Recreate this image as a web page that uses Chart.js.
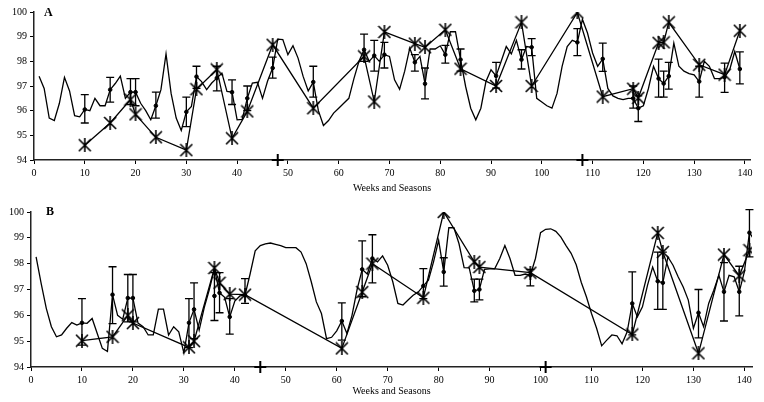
<!DOCTYPE html>
<html>
<head>
<meta charset="utf-8">
<script src="https://cdn.jsdelivr.net/npm/chart.js@4/dist/chart.umd.min.js"></script>
<style>
  body { margin: 0; background: #fff; width: 764px; height: 402px; position: relative; overflow: hidden; }
  canvas { position: absolute; left: 0; }
  #chartA { top: 0; }
  #chartB { top: 195px; }
  .panel { position: absolute; font: bold 12px "Liberation Serif", serif; color: #000; }
</style>
</head>
<body>
<canvas id="chartA" width="764" height="197"></canvas>
<canvas id="chartB" width="764" height="207"></canvas>
<div class="panel" style="left:44px;top:5px">A</div>
<div class="panel" style="left:46px;top:204px">B</div>
<script>
// ---- panel A ----
// weekly line, starts at week 1
const lineA = [97.4,96.9,95.7,95.6,96.3,97.35,96.8,95.8,95.75,96.05,
  96.0,96.5,96.2,96.2,96.85,97.1,97.4,96.5,96.75,96.75,
  96.3,96.0,95.63,96.2,96.85,98.3,96.7,95.7,95.2,95.95,
  96.17,97.38,97.18,96.85,97.12,97.32,97.52,96.78,96.75,95.63,
  95.65,96.5,97.12,97.15,96.5,97.2,97.73,98.9,98.88,98.27,
  98.63,98.13,97.39,96.8,97.16,96.0,95.4,95.6,95.9,96.1,
  96.3,96.5,97.3,98.0,98.47,98.0,98.23,98.0,98.27,98.2,
  97.25,96.87,97.6,98.54,97.96,98.2,97.09,98.5,98.5,98.63,
  98.27,99.2,99.2,98.07,96.98,96.1,95.63,96.1,97.18,97.66,
  97.41,98.0,98.6,98.3,98.85,98.07,98.6,98.57,96.5,96.35,
  96.2,96.1,96.7,97.8,98.6,98.85,98.77,99.7,99.15,98.34,
  97.8,98.1,96.9,96.6,96.5,96.45,96.5,96.5,96.1,96.2,
  96.9,97.8,97.3,97.1,97.4,98.74,97.8,97.6,97.5,97.45,
  97.18,98.0,97.8,97.3,97.3,97.36,97.66,98.4,97.69];
const weeksA = [10,15,19,20,24,30,32,36,39,42,47,55,65,67,69,75,77,81,84,91,96,98,107,112,118,119,123,124,125,131,136,139];
const meanA = [96.05,96.85,96.75,96.75,96.2,95.95,97.38,97.32,96.75,96.5,97.73,97.16,98.47,98.23,98.27,97.96,97.09,98.27,98.07,97.41,98.07,98.57,98.77,98.1,96.5,96.1,97.3,97.1,97.4,97.18,97.36,97.69];
const lowA = [95.5,96.35,96.25,96.2,95.7,95.35,96.9,96.8,96.25,96.0,97.32,96.55,98.0,97.6,97.73,97.6,96.48,97.93,97.6,96.91,97.69,98.23,98.23,97.59,96.1,95.56,96.55,96.55,96.87,96.55,96.74,97.09];
const highA = [96.65,97.35,97.3,97.3,96.75,96.55,97.8,97.8,97.25,97.0,98.17,97.8,99.1,98.85,98.77,98.27,97.73,98.65,98.5,97.96,98.47,98.92,99.33,98.74,97.0,96.6,98.09,97.6,97.96,97.8,97.93,98.38];
const starA = [94.6,95.5,96.45,95.85,94.92,94.4,96.87,97.67,94.88,95.97,98.67,96.1,98.2,96.37,99.19,98.72,98.57,99.28,97.7,97.0,99.58,97.0,99.98,96.57,96.89,96.52,98.75,98.77,99.58,97.86,97.46,99.24];
const seasonA = [48, 108];

// ---- panel B ----
const lineB = [98.26,97.23,96.27,95.56,95.17,95.24,95.5,95.72,95.62,95.71,
  95.69,95.88,95.3,94.72,94.6,96.8,96.0,95.85,96.67,96.67,
  95.7,95.56,95.24,95.24,96.24,96.24,95.24,95.56,95.36,94.55,
  95.71,96.23,95.43,96.3,97.0,97.8,96.87,96.7,95.94,96.55,
  96.75,96.78,97.6,98.5,98.7,98.77,98.8,98.75,98.7,98.62,
  98.62,98.62,98.45,98.0,97.3,96.52,96.07,95.1,95.15,95.4,
  95.78,95.3,96.0,97.0,97.78,97.6,98.2,98.07,98.3,97.94,
  97.3,96.46,96.4,96.59,96.78,96.9,97.14,97.36,98.07,98.9,
  97.68,99.39,99.39,98.77,97.85,97.84,96.95,97.0,97.78,97.8,
  97.8,98.2,98.7,98.2,97.55,97.55,97.6,97.55,98.2,99.2,
  99.33,99.35,99.25,99.03,98.7,98.4,97.96,97.27,96.72,96.07,
  95.5,94.82,95.04,95.24,95.21,94.9,95.36,96.46,95.94,96.33,
  97.17,97.87,97.32,97.26,98.26,97.94,97.49,97.1,96.59,95.5,
  96.1,95.56,96.46,96.97,97.55,96.91,97.55,97.49,96.91,97.68,
  99.2,98.9];
const weeksB = [10,16,19,20,31,32,36,37,39,42,61,65,67,77,81,87,88,98,118,123,124,131,136,139,141];
const meanB = [95.71,96.8,96.67,96.67,95.71,96.23,96.75,96.87,95.94,96.78,95.78,97.78,98.2,97.14,97.68,96.95,97.0,97.55,96.46,97.32,97.26,96.1,96.91,96.91,99.2];
const lowB = [94.85,95.68,95.75,95.75,94.75,95.1,95.8,96.1,95.27,96.46,95.04,96.72,97.26,96.65,97.13,96.52,96.6,97.14,95.24,96.23,96.23,95.13,95.78,95.98,98.26];
const highB = [96.65,97.88,97.58,97.58,96.65,97.26,97.65,97.65,96.65,97.42,96.48,98.88,99.12,97.81,98.23,97.4,97.4,97.78,97.68,98.45,98.45,97.0,98.04,97.9,100.09];
const starB = [95.02,95.17,96.0,95.7,94.76,95.0,97.83,97.26,96.82,96.8,94.72,96.9,98.0,96.68,100.0,98.07,97.87,97.65,95.26,99.19,98.45,94.53,98.35,97.53,98.52];
const seasonB = [45, 101];

const font = { family: 'Liberation Serif', size: 10 };

// star marker: X with a vertical bar
function starMarker() {
  const c = document.createElement('canvas');
  c.width = 14; c.height = 14;
  const g = c.getContext('2d');
  g.strokeStyle = '#000';
  g.lineWidth = 1.6;
  g.beginPath();
  g.moveTo(1, 1); g.lineTo(13, 13);
  g.moveTo(13, 1); g.lineTo(1, 13);
  g.moveTo(7, 0); g.lineTo(7, 14);
  g.stroke();
  return c;
}
const star = starMarker();

const errBars = {
  id: 'errBars',
  afterDatasetsDraw(chart, args, opts) {
    const ctx = chart.ctx, x = chart.scales.x, y = chart.scales.y;
    ctx.save();
    ctx.strokeStyle = '#000';
    ctx.lineWidth = 1.3;
    opts.weeks.forEach((w, i) => {
      const px = x.getPixelForValue(w);
      const lo = y.getPixelForValue(opts.low[i]);
      const hi = y.getPixelForValue(opts.high[i]);
      ctx.beginPath();
      ctx.moveTo(px, lo); ctx.lineTo(px, hi);
      ctx.moveTo(px - 4, lo); ctx.lineTo(px + 4, lo);
      ctx.moveTo(px - 4, hi); ctx.lineTo(px + 4, hi);
      ctx.stroke();
    });
    ctx.restore();
  }
};

function makeChart(id, o) {
  const linePts = o.line.map((v, i) => ({ x: i + 1, y: v }));
  const dotPts = o.weeks.map((w, i) => ({ x: w, y: o.mean[i] }));
  const starPts = o.weeks.map((w, i) => ({ x: w, y: o.star[i] }));
  const seasonPts = o.season.map(w => ({ x: w, y: 94 }));
  const axisGrid = { drawOnChartArea: false, drawTicks: true, tickLength: 4, color: '#000' };
  const axisBorder = { color: '#222', width: 1.5 };
  return new Chart(document.getElementById(id), {
    type: 'line',
    data: {
      datasets: [
        { data: linePts, borderColor: '#000', borderWidth: 1.3, pointRadius: 0, tension: 0 },
        { data: dotPts, showLine: false, pointRadius: 1.8, pointBackgroundColor: '#000', pointBorderColor: '#000' },
        { data: starPts, borderColor: '#000', borderWidth: 1.3, pointStyle: star, tension: 0 },
        { data: seasonPts, showLine: false, pointStyle: 'cross', pointRadius: 6, borderColor: '#000', borderWidth: 2, clip: false }
      ]
    },
    options: {
      responsive: false,
      animation: false,
      devicePixelRatio: 1,
      layout: { padding: { left: 0, top: o.top, right: o.right, bottom: 0 } },
      plugins: {
        legend: { display: false },
        tooltip: { enabled: false },
        errBars: { weeks: o.weeks, low: o.low, high: o.high }
      },
      scales: {
        x: {
          type: 'linear', min: 0, max: o.xmax,
          afterFit(s) { s.height = o.xh; },
          ticks: { stepSize: 10, includeBounds: false, font: font, color: '#000', padding: 3, maxRotation: 0 },
          grid: axisGrid,
          border: axisBorder,
          title: { display: true, text: 'Weeks and Seasons', font: font, color: '#000', padding: { top: 2, bottom: o.tb } }
        },
        y: {
          min: 94, max: 100,
          afterFit(s) { s.width = o.yw; },
          ticks: { stepSize: 1, font: font, color: '#000', padding: 3 },
          grid: axisGrid,
          border: axisBorder
        }
      }
    },
    plugins: [errBars]
  });
}

makeChart('chartA', { line: lineA, weeks: weeksA, mean: meanA, low: lowA, high: highA, star: starA, season: seasonA,
  top: 12, right: 14, xmax: 141, xh: 37, yw: 34, tb: 3 });
makeChart('chartB', { line: lineB, weeks: weeksB, mean: meanB, low: lowB, high: highB, star: starB, season: seasonB,
  top: 17, right: 12, xmax: 141.5, xh: 35, yw: 31, tb: 5 });
</script>
</body>
</html>
